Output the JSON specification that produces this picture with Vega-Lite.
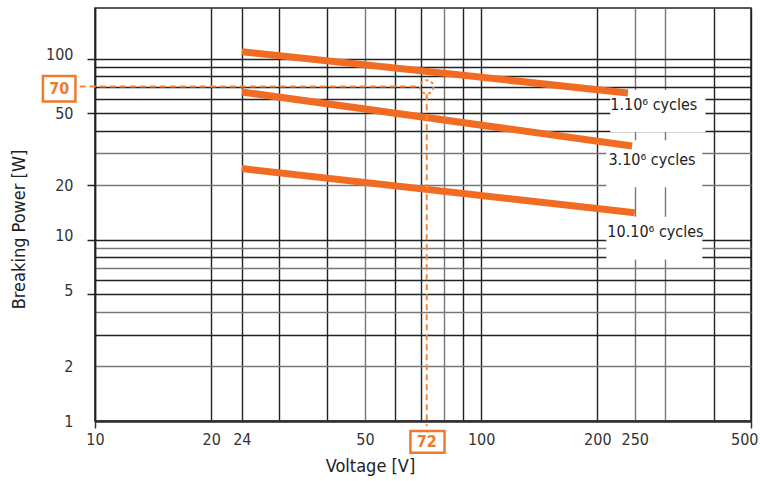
{
  "$schema": "https://vega.github.io/schema/vega-lite/v6.json",
  "width": 656,
  "height": 413,
  "autosize": {"type": "none"},
  "padding": {"left": 95, "top": 8, "right": 9, "bottom": 60},
  "background": "white",
  "config": {
    "view": {"stroke": "#222", "strokeWidth": 1.5},
    "font": "DejaVu Sans Condensed, sans-serif"
  },
  "datasets": {
    "lines": [
      {"s": "1", "v": 24, "p": 109},
      {"s": "1", "v": 240, "p": 64.6},
      {"s": "3", "v": 24, "p": 65.4},
      {"s": "3", "v": 246, "p": 32.9},
      {"s": "10", "v": 24, "p": 24.7},
      {"s": "10", "v": 250, "p": 14.1}
    ],
    "boxes": [
      {"v": 216, "v2": 381, "p": 67, "p2": 39.2},
      {"v": 211, "v2": 374, "p": 35.4, "p2": 19.5},
      {"v": 211, "v2": 374, "p": 13.4, "p2": 7.78}
    ],
    "cycles": [
      {"v": 216, "p": 55.2, "t": "1.10⁶ cycles"},
      {"v": 213.7, "p": 27.7, "t": "3.10⁶ cycles"},
      {"v": 212.3, "p": 10.97, "t": "10.10⁶ cycles"}
    ],
    "dash": [
      {"g": "h", "v": 9.13, "p": 70},
      {"g": "h", "v": 69.3, "p": 70},
      {"g": "vv", "v": 72.3, "p": 63.6},
      {"g": "vv", "v": 72.3, "p": 0.935}
    ],
    "circle": [{"v": 72.3, "p": 69.7}],
    "valboxes": [
      {"v": 7.33, "v2": 8.9, "p": 80.1, "p2": 57.9},
      {"v": 65.6, "v2": 80.4, "p": 0.881, "p2": 0.669}
    ],
    "vallabels": [
      {"v": 8.08, "p": 68.1, "t": "70"},
      {"v": 72.3, "p": 0.768, "t": "72"}
    ]
  },
  "encoding": {
    "x": {
      "field": "v",
      "type": "quantitative",
      "scale": {"type": "log", "domain": [10, 500]},
      "axis": {
        "title": "Voltage [V]",
        "values": [10, 20, 24, 30, 40, 50, 60, 70, 80, 90, 100, 200, 250, 300, 400, 500],
        "format": "d",
        "labelExpr": "(datum.value == 10 || datum.value == 20 || datum.value == 24 || datum.value == 50 || datum.value == 100 || datum.value == 200 || datum.value == 250 || datum.value == 500) ? datum.label : ''",
        "labelFontSize": 16,
        "labelColor": "#333",
        "labelPadding": 3,
        "labelFlush": false,
        "labelOverlap": false,
        "labelAlign": {"condition": {"test": "datum.value == 500", "value": "right"}, "value": "center"},
        "labelOffset": {"condition": {"test": "datum.value == 500", "value": 7}, "value": 0},
        "tickSize": 7,
        "tickWidth": 1.5,
        "tickColor": {"condition": {"test": "datum.value == 10 || datum.value == 500", "value": "#333"}, "value": "transparent"},
        "grid": true,
        "gridWidth": 1.4,
        "gridColor": {"condition": {"test": "datum.value == 50 || datum.value == 80 || datum.value == 250 || datum.value == 300", "value": "#777"}, "value": "#222"},
        "gridOpacity": 1,
        "domainColor": "#333",
        "domainWidth": 2.5,
        "titleFontSize": 18,
        "titleFontWeight": "normal",
        "titleColor": "#222",
        "titleX": 275,
        "titleY": 45,
        "titleAlign": "center",
        "titleBaseline": "middle"
      }
    },
    "y": {
      "field": "p",
      "type": "quantitative",
      "scale": {"type": "log", "domain": [1, 190]},
      "axis": {
        "title": "Breaking Power [W]",
        "values": [1, 2, 3, 4, 5, 6, 7, 8, 9, 10, 20, 30, 40, 50, 60, 70, 80, 90, 100],
        "format": "d",
        "labelExpr": "(datum.value == 1 || datum.value == 2 || datum.value == 5 || datum.value == 10 || datum.value == 20 || datum.value == 50 || datum.value == 100) ? datum.label : ''",
        "labelFontSize": 16,
        "labelColor": "#333",
        "labelPadding": 14,
        "labelFlush": false,
        "labelOverlap": false,
        "labelOffset": {"condition": {"test": "datum.value == 100 || datum.value == 10 || datum.value == 5", "value": -4}, "value": 0},
        "tickSize": 8,
        "tickWidth": 1.5,
        "tickColor": {"condition": {"test": "datum.value == 5 || datum.value == 10 || datum.value == 20 || datum.value == 50 || datum.value == 100", "value": "#222"}, "value": "transparent"},
        "grid": true,
        "gridWidth": 1.4,
        "gridColor": {"condition": {"test": "datum.value == 2 || datum.value == 4 || datum.value == 7 || datum.value == 9 || datum.value == 20 || datum.value == 30", "value": "#777"}, "value": "#222"},
        "gridOpacity": 1,
        "domainColor": "#222",
        "domainWidth": 1.5,
        "titleFontSize": 18,
        "titleFontWeight": "normal",
        "titleColor": "#222",
        "titleX": -76,
        "titleY": 221,
        "titleAngle": -90,
        "titleAlign": "center",
        "titleBaseline": "middle"
      }
    }
  },
  "layer": [
    {
      "data": {"name": "boxes"},
      "mark": {"type": "rect", "fill": "white"},
      "encoding": {"x2": {"field": "v2"}, "y2": {"field": "p2"}}
    },
    {
      "data": {"name": "lines"},
      "mark": {"type": "line", "color": "#F26B22", "strokeWidth": 7, "strokeCap": "butt"},
      "encoding": {"detail": {"field": "s"}}
    },
    {
      "data": {"name": "dash"},
      "mark": {"type": "line", "color": "#F5873A", "strokeWidth": 2, "strokeDash": [6, 4]},
      "encoding": {"detail": {"field": "g"}}
    },
    {
      "data": {"name": "circle"},
      "mark": {"type": "point", "shape": "circle", "size": 180, "filled": false, "stroke": "#F5873A", "strokeWidth": 2, "strokeDash": [3, 3], "opacity": 1}
    },
    {
      "data": {"name": "cycles"},
      "mark": {"type": "text", "align": "left", "baseline": "middle", "fontSize": 16, "color": "#222"},
      "encoding": {"text": {"field": "t"}}
    },
    {
      "data": {"name": "valboxes"},
      "mark": {"type": "rect", "fill": "white", "stroke": "#F07A2C", "strokeWidth": 2.5},
      "encoding": {"x2": {"field": "v2"}, "y2": {"field": "p2"}}
    },
    {
      "data": {"name": "vallabels"},
      "mark": {"type": "text", "align": "center", "baseline": "middle", "fontSize": 16, "fontWeight": "bold", "color": "#F07A2C"},
      "encoding": {"text": {"field": "t"}}
    }
  ]
}
